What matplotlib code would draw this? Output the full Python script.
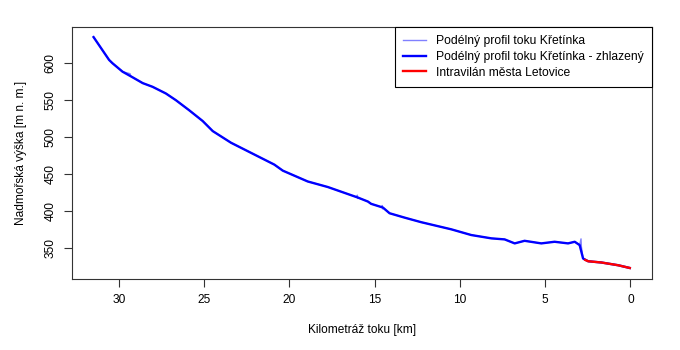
import matplotlib
matplotlib.use("Agg")
import matplotlib.pyplot as plt

plt.rcParams.update({
    "font.family": ["Liberation Sans", "DejaVu Sans"],
    "font.size": 8.6,
})

# Smoothed longitudinal profile (river km, elevation m a.s.l.)
km_smooth = [31.49, 30.58, 30.38, 29.79, 29.20, 28.61, 28.03, 27.25, 26.66,
             25.88, 25.09, 24.50, 23.43, 22.26, 20.89, 20.39, 18.93, 17.75,
             15.99, 15.40, 15.21, 14.52, 14.13, 13.25, 12.27, 10.51, 9.34,
             8.16, 7.38, 6.79, 6.21, 5.23, 4.45, 3.66, 3.27, 2.98, 2.78,
             2.48, 1.70, 0.72, 0.04]
elev_smooth = [634.9, 604.1, 599.6, 588.2, 580.6, 572.8, 567.8, 558.8, 549.7,
               536.1, 521.6, 508.0, 492.3, 478.7, 462.8, 454.6, 440.0, 432.5,
               418.3, 412.9, 409.8, 404.8, 397.1, 391.2, 385.0, 375.4, 367.7,
               363.2, 361.8, 356.4, 359.9, 356.4, 358.6, 356.4, 358.6, 354.1,
               336.0, 332.3, 330.6, 326.9, 323.2]

# Raw profile (mostly hidden under the smoothed one, small spikes visible)
km_raw = [31.49, 30.58, 30.38, 29.79, 29.35, 29.30, 29.20, 28.61, 28.03,
          27.25, 26.66, 25.88, 25.09, 24.50, 23.43, 22.26, 20.89, 20.39,
          18.93, 17.75, 16.05, 16.02, 16.00, 15.99, 15.40, 15.21, 14.58,
          14.56, 14.54, 14.52, 14.13, 13.25, 12.27, 10.51, 9.34, 8.16, 7.38,
          6.79, 6.21, 5.23, 4.45, 3.66, 3.27, 2.98, 2.90, 2.88, 2.78, 2.48,
          1.70, 0.72, 0.04]
elev_raw = [634.9, 604.1, 599.6, 588.2, 585.5, 582.0, 580.6, 572.8, 567.8,
            558.8, 549.7, 536.1, 521.6, 508.0, 492.3, 478.7, 462.8, 454.6,
            440.0, 432.5, 418.8, 421.5, 417.0, 418.3, 412.9, 409.8, 405.2,
            407.5, 403.0, 404.8, 397.1, 391.2, 385.0, 375.4, 367.7, 363.2,
            361.8, 356.4, 359.9, 356.4, 358.6, 356.4, 358.6, 354.1, 362.5,
            352.0, 336.0, 332.3, 330.6, 326.9, 323.2]

# Urban area of Letovice
km_town = [2.65, 2.48, 1.70, 0.72, 0.04]
elev_town = [334.0, 332.3, 330.6, 326.9, 323.2]

x_ticks = [30, 25, 20, 15, 10, 5, 0]
y_ticks = [350, 400, 450, 500, 550, 600]

fig = plt.figure(figsize=(6.8, 3.5), dpi=100)
ax = fig.add_axes([0.106, 0.203, 0.853, 0.72])

ax.plot(km_raw, elev_raw, color="#8080ff", lw=1,
        label="Podélný profil toku Křetínka")
ax.plot(km_smooth, elev_smooth, color="#0000ff", lw=1.7,
        label="Podélný profil toku Křetínka - zhlazený")
ax.plot(km_town, elev_town, color="#ff0000", lw=1.7,
        label="Intravilán města Letovice")

ax.set_xlim(32.75, -1.27)
ax.set_ylim(308.4, 648.6)
ax.set_xticks(x_ticks)
ax.set_yticks(y_ticks)
ax.set_yticklabels([str(v) for v in y_ticks], rotation=90, va="center")
ax.tick_params(direction="out", length=6, width=0.8, color="#333333")
ax.tick_params(axis="x", pad=5)
ax.tick_params(axis="y", pad=5)
for s in ax.spines.values():
    s.set_linewidth(0.8)
    s.set_color("#333333")

ax.set_xlabel("Kilometráž toku [km]", labelpad=13)
ax.set_ylabel("Nadmořská výška [m n. m.]", labelpad=13)

leg = ax.legend(loc="upper right", borderaxespad=0, fancybox=False,
                framealpha=1, edgecolor="black", handlelength=1.9,
                handletextpad=0.8, labelspacing=0.3, borderpad=0.7,
                prop={"size": 8.7})
leg.get_frame().set_linewidth(0.8)

fig.savefig("out.png", dpi=100)
